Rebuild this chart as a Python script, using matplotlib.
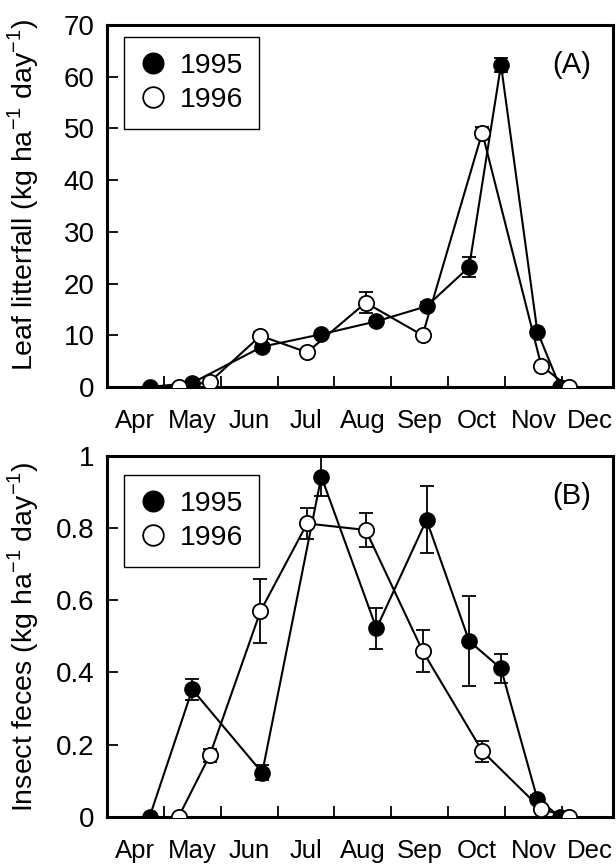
import matplotlib
matplotlib.use("Agg")
import matplotlib.pyplot as plt
import numpy as np

plt.rcParams['font.family'] = ['Liberation Sans', 'DejaVu Sans']
plt.rcParams['mathtext.fontset'] = 'custom'
plt.rcParams['mathtext.rm'] = 'Liberation Sans'

# sampling dates as months since 1 April
x_1995 = [0.75, 1.50, 2.73, 3.77, 4.74, 5.62, 6.37, 6.93, 7.57, 7.97]
x_1996 = [1.26, 1.81, 2.70, 3.52, 4.55, 5.55, 6.60, 7.64, 8.12]

# leaf litterfall (kg ha-1 day-1)
leaf_1995 = [0.0, 0.8, 7.8, 10.2, 12.7, 15.6, 23.2, 62.3, 10.7, 0.0]
leaf_1995_se = [0.2, 0.3, 0.8, 0.6, 0.7, 0.8, 2.0, 1.3, 0.6, 0.1]
leaf_1996 = [0.0, 1.0, 9.9, 6.7, 16.3, 10.0, 49.2, 4.1, 0.0]
leaf_1996_se = [0.1, 0.3, 0.7, 0.5, 2.0, 0.6, 1.0, 0.5, 0.1]

# insect feces (kg ha-1 day-1)
fec_1995 = [0.0, 0.353, 0.122, 0.943, 0.522, 0.823, 0.487, 0.411, 0.049, 0.0]
fec_1995_se = [0.0, 0.028, 0.021, 0.055, 0.058, 0.093, 0.125, 0.040, 0.010, 0.0]
fec_1996 = [0.0, 0.171, 0.570, 0.813, 0.795, 0.460, 0.182, 0.021, 0.0]
fec_1996_se = [0.0, 0.018, 0.089, 0.044, 0.048, 0.059, 0.029, 0.008, 0.0]

months = ['Apr', 'May', 'Jun', 'Jul', 'Aug', 'Sep', 'Oct', 'Nov', 'Dec']
leaf_ticks = [0, 10, 20, 30, 40, 50, 60, 70]
fec_ticks = [0, 0.2, 0.4, 0.6, 0.8, 1.0]
fec_ticklabels = ['0', '0.2', '0.4', '0.6', '0.8', '1']

fig = plt.figure(figsize=(6.16, 8.65), dpi=100)
axA = fig.add_axes([0.1737, 0.5526, 0.8214, 0.4185])
axB = fig.add_axes([0.1737, 0.0558, 0.8214, 0.4170])


def draw_panel(ax, y95, e95, y96, e96, ymax, yticks, yticklabels, ylabel, ylab_y, tag, leg_top):
    ax.errorbar(x_1995, y95, yerr=e95, color='black', lw=1.5, elinewidth=1.3,
                capsize=4.7, capthick=1.3, marker='o', ms=11, mfc='black',
                mec='black', label='1995', zorder=3)
    ax.errorbar(x_1996, y96, yerr=e96, color='black', lw=1.5, elinewidth=1.3,
                capsize=4.7, capthick=1.3, marker='o', ms=11, mfc='white',
                mec='black', mew=1.3, label='1996', zorder=4)

    ax.set_xlim(0, 8.9)
    ax.set_ylim(0, ymax)
    ax.set_xticks(np.arange(1, 9))
    ax.set_xticklabels([])
    ax.set_xticks(np.arange(9) + 0.5, minor=True)
    ax.set_xticklabels(months, minor=True, fontsize=18.5)
    ax.tick_params(axis='x', which='major', direction='in', length=8, width=1.3)
    ax.tick_params(axis='x', which='minor', length=0, pad=16)
    ax.set_yticks(yticks)
    ax.set_yticklabels(yticklabels, fontsize=20)
    ax.tick_params(axis='y', direction='in', length=8, width=1.3, pad=9)
    for s in ax.spines.values():
        s.set_linewidth(2.2)

    ax.set_ylabel(ylabel, fontsize=20.5)
    ax.yaxis.set_label_coords(-0.13, ylab_y)
    ax.text(0.919, 0.89, tag, transform=ax.transAxes, fontsize=21,
            ha='center', va='center')

    handles, labels = ax.get_legend_handles_labels()
    handles = [h[0] for h in handles]
    leg = ax.legend(handles, labels, loc='upper left',
                    bbox_to_anchor=(0.034, leg_top), borderaxespad=0,
                    fontsize=20.5, handlelength=0.9, handletextpad=0.5,
                    markerscale=1.35, fancybox=False, framealpha=1,
                    edgecolor='black', labelspacing=0.3, borderpad=0.55)
    leg.get_frame().set_linewidth(1.0)
    for h in leg.legend_handles:
        h.set_linestyle('none')


draw_panel(axA, leaf_1995, leaf_1995_se, leaf_1996, leaf_1996_se, 70,
           leaf_ticks, [str(t) for t in leaf_ticks],
           'Leaf litterfall (kg ha$^{-1}$ day$^{-1}$)', 0.53, '(A)', 0.967)
draw_panel(axB, fec_1995, fec_1995_se, fec_1996, fec_1996_se, 1.0,
           fec_ticks, fec_ticklabels,
           'Insect feces (kg ha$^{-1}$ day$^{-1}$)', 0.50, '(B)', 0.947)

fig.savefig('out.png', dpi=100)
